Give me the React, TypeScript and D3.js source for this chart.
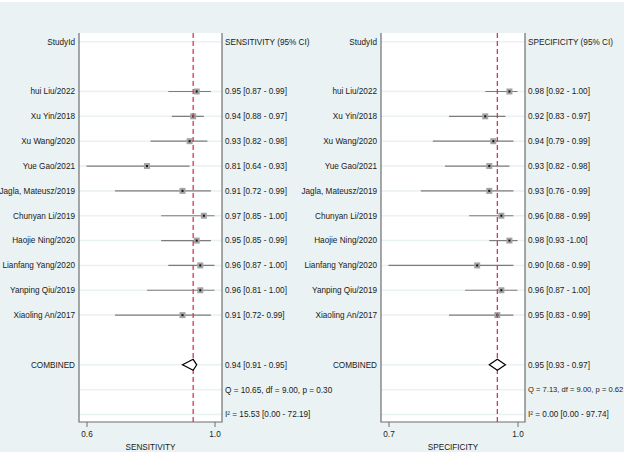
import React, { useEffect, useRef } from "react";
import * as d3 from "d3";

const studies = [
  "hui Liu/2022",
  "Xu Yin/2018",
  "Xu Wang/2020",
  "Yue Gao/2021",
  "Jagla, Mateusz/2019",
  "Chunyan Li/2019",
  "Haojie Ning/2020",
  "Lianfang Yang/2020",
  "Yanping Qiu/2019",
  "Xiaoling An/2017"
];

// sensitivity per study
const sensEst = [0.95, 0.94, 0.93, 0.81, 0.91, 0.97, 0.95, 0.96, 0.96, 0.91];
const sensLo = [0.87, 0.88, 0.82, 0.64, 0.72, 0.85, 0.85, 0.87, 0.81, 0.72];
const sensHi = [0.99, 0.97, 0.98, 0.93, 0.99, 1.0, 0.99, 1.0, 1.0, 0.99];
const sensText = [
  "0.95 [0.87 - 0.99]",
  "0.94 [0.88 - 0.97]",
  "0.93 [0.82 - 0.98]",
  "0.81 [0.64 - 0.93]",
  "0.91 [0.72 - 0.99]",
  "0.97 [0.85 - 1.00]",
  "0.95 [0.85 - 0.99]",
  "0.96 [0.87 - 1.00]",
  "0.96 [0.81 - 1.00]",
  "0.91 [0.72- 0.99]"
];
const sensPooled = [0.94, 0.91, 0.95];
const sensPooledText = "0.94 [0.91 - 0.95]";
const sensQ = "Q = 10.65, df = 9.00, p = 0.30";
const sensI2 = "I\u00b2 = 15.53 [0.00 - 72.19]";

// specificity per study
const specEst = [0.98, 0.92, 0.94, 0.93, 0.93, 0.96, 0.98, 0.9, 0.96, 0.95];
const specLo = [0.92, 0.83, 0.79, 0.82, 0.76, 0.88, 0.93, 0.68, 0.87, 0.83];
const specHi = [1.0, 0.97, 0.99, 0.98, 0.99, 0.99, 1.0, 0.99, 1.0, 0.99];
const specText = [
  "0.98 [0.92 - 1.00]",
  "0.92 [0.83 - 0.97]",
  "0.94 [0.79 - 0.99]",
  "0.93 [0.82 - 0.98]",
  "0.93 [0.76 - 0.99]",
  "0.96 [0.88 - 0.99]",
  "0.98 [0.93 -1.00]",
  "0.90 [0.68 - 0.99]",
  "0.96 [0.87 - 1.00]",
  "0.95 [0.83 - 0.99]"
];
const specPooled = [0.95, 0.93, 0.97];
const specPooledText = "0.95 [0.93 - 0.97]";
const specQ = "Q = 7.13, df = 9.00, p = 0.62";
const specI2 = "I\u00b2 = 0.00 [0.00 - 97.74]";

const W = 624;
const H = 455;
const FONT = "'Liberation Sans', Arial, sans-serif";
const INK = "#1a1a1a";

interface Panel {
  title: string;
  axisTitle: string;
  est: number[];
  lo: number[];
  hi: number[];
  text: string[];
  pooled: number[];
  pooledText: string;
  q: string;
  i2: string;
  boxLeft: number;
  boxRight: number;
}

const panels: Panel[] = [
  {
    title: "SENSITIVITY (95% CI)",
    axisTitle: "SENSITIVITY",
    est: sensEst,
    lo: sensLo,
    hi: sensHi,
    text: sensText,
    pooled: sensPooled,
    pooledText: sensPooledText,
    q: sensQ,
    i2: sensI2,
    boxLeft: 79,
    boxRight: 222
  },
  {
    title: "SPECIFICITY (95% CI)",
    axisTitle: "SPECIFICITY",
    est: specEst,
    lo: specLo,
    hi: specHi,
    text: specText,
    pooled: specPooled,
    pooledText: specPooledText,
    q: specQ,
    i2: specI2,
    boxLeft: 381,
    boxRight: 525
  }
];

const App: React.FC = () => {
  const svgRef = useRef<SVGSVGElement>(null);

  useEffect(() => {
    if (svgRef.current === null) return;
    const svg = d3.select(svgRef.current);
    svg.selectAll("*").remove();

    // background
    svg
      .append("rect")
      .attr("x", 0)
      .attr("y", 2)
      .attr("width", W)
      .attr("height", H - 5)
      .attr("fill", "#eaf2f3");

    // rows: -2 header, 0..9 studies, 11 combined, 12 Q, 13 I2
    const y = d3.scaleLinear().domain([-2, 13]).range([41.8, 414.5]);
    const boxTop = 33;
    const boxBottom = 422;
    const pad = 7.5;

    panels.forEach(p => {
      const g = svg.append("g");
      const x = d3
        .scaleLinear()
        .domain([d3.min(p.lo) as number, d3.max(p.hi) as number])
        .range([p.boxLeft + pad, p.boxRight - pad]);

      // white plot box
      g.append("rect")
        .attr("x", p.boxLeft)
        .attr("y", boxTop)
        .attr("width", p.boxRight - p.boxLeft)
        .attr("height", boxBottom - boxTop)
        .attr("fill", "#fff");

      // faint row lines
      const rows = [-2, ...d3.range(p.est.length), 11, 12, 13];
      g.selectAll("line.row")
        .data(rows)
        .enter()
        .append("line")
        .attr("x1", p.boxLeft)
        .attr("x2", p.boxRight)
        .attr("y1", d => y(d))
        .attr("y2", d => y(d))
        .attr("stroke", "#e9f1f3")
        .attr("stroke-width", 1.5);

      // box frame (left, right, bottom)
      g.append("path")
        .attr(
          "d",
          `M${p.boxLeft},${boxTop}V${boxBottom}H${p.boxRight}V${boxTop}`
        )
        .attr("fill", "none")
        .attr("stroke", "#6f6f6f")
        .attr("stroke-width", 1.2);

      // CI lines
      g.selectAll("line.ci")
        .data(p.est)
        .enter()
        .append("line")
        .attr("x1", (d, i) => x(p.lo[i]))
        .attr("x2", (d, i) => x(p.hi[i]))
        .attr("y1", (d, i) => y(i))
        .attr("y2", (d, i) => y(i))
        .attr("stroke", "#7d7d7d")
        .attr("stroke-width", 1.2);

      // point squares
      g.selectAll("rect.pt")
        .data(p.est)
        .enter()
        .append("rect")
        .attr("x", d => x(d) - 3)
        .attr("y", (d, i) => y(i) - 3)
        .attr("width", 6)
        .attr("height", 6)
        .attr("fill", "#a3a3a3");
      g.selectAll("rect.dot")
        .data(p.est)
        .enter()
        .append("rect")
        .attr("x", d => x(d) - 1)
        .attr("y", (d, i) => y(i) - 1)
        .attr("width", 2)
        .attr("height", 2)
        .attr("fill", "#111");

      // pooled line
      g.append("line")
        .attr("x1", x(p.pooled[0]))
        .attr("x2", x(p.pooled[0]))
        .attr("y1", boxTop)
        .attr("y2", boxBottom)
        .attr("stroke", "#d43a55")
        .attr("stroke-width", 1.3)
        .attr("stroke-dasharray", "5,3");

      // diamond
      const yc = y(11);
      g.append("path")
        .attr(
          "d",
          `M${x(p.pooled[1])},${yc}L${x(p.pooled[0])},${yc - 5.5}L${x(
            p.pooled[2]
          )},${yc}L${x(p.pooled[0])},${yc + 5.5}Z`
        )
        .attr("fill", "#fff")
        .attr("stroke", "#000")
        .attr("stroke-width", 1.2);

      // axis
      const axis = d3
        .axisBottom(x)
        .tickValues(x.domain())
        .tickFormat(d3.format(".1f") as any)
        .tickSize(5)
        .tickSizeOuter(0);
      const ag = g
        .append("g")
        .attr("transform", `translate(0,${boxBottom})`)
        .call(axis);
      ag.select(".domain").remove();
      ag.selectAll("line").attr("stroke", "#6f6f6f");
      ag.selectAll("text")
        .attr("font-family", FONT)
        .attr("font-size", 8.2)
        .attr("fill", INK)
        .attr("dy", "0.9em");

      g.append("text")
        .attr("x", (p.boxLeft + p.boxRight) / 2)
        .attr("y", 449.5)
        .attr("text-anchor", "middle")
        .attr("font-family", FONT)
        .attr("font-size", 8.2)
        .attr("fill", INK)
        .text(p.axisTitle);

      // left labels
      const leftLabels = [
        { r: -2, t: "StudyId" },
        ...studies.map((s, i) => ({ r: i, t: s })),
        { r: 11, t: "COMBINED" }
      ];
      g.selectAll("text.lab")
        .data(leftLabels)
        .enter()
        .append("text")
        .attr("x", p.boxLeft - 4)
        .attr("y", d => y(d.r))
        .attr("dy", "0.35em")
        .attr("text-anchor", "end")
        .attr("font-family", FONT)
        .attr("font-size", 8.2)
        .attr("fill", INK)
        .text(d => d.t);

      // right labels
      const rightLabels = [
        { r: -2, t: p.title },
        ...p.text.map((s, i) => ({ r: i, t: s })),
        { r: 11, t: p.pooledText },
        { r: 12, t: p.q },
        { r: 13, t: p.i2 }
      ];
      const rt = g
        .selectAll("text.val")
        .data(rightLabels)
        .enter()
        .append("text")
        .attr("x", p.boxRight + 3)
        .attr("y", d => y(d.r))
        .attr("dy", "0.35em")
        .attr("font-family", FONT)
        .attr("font-size", 8.2)
        .attr("fill", INK)
        .text(d => d.t);
      // keep the last panel's Q line inside the picture
      if (p.boxRight + 3 + 100 > W) {
        rt.filter(d => d.r === 12).attr("font-size", 7.6);
      }
    });
  }, []);

  return (
    <svg
      ref={svgRef}
      width={W}
      height={H}
      style={{ position: "absolute", left: 0, top: 0, background: "#fff" }}
    />
  );
};

export default App;
